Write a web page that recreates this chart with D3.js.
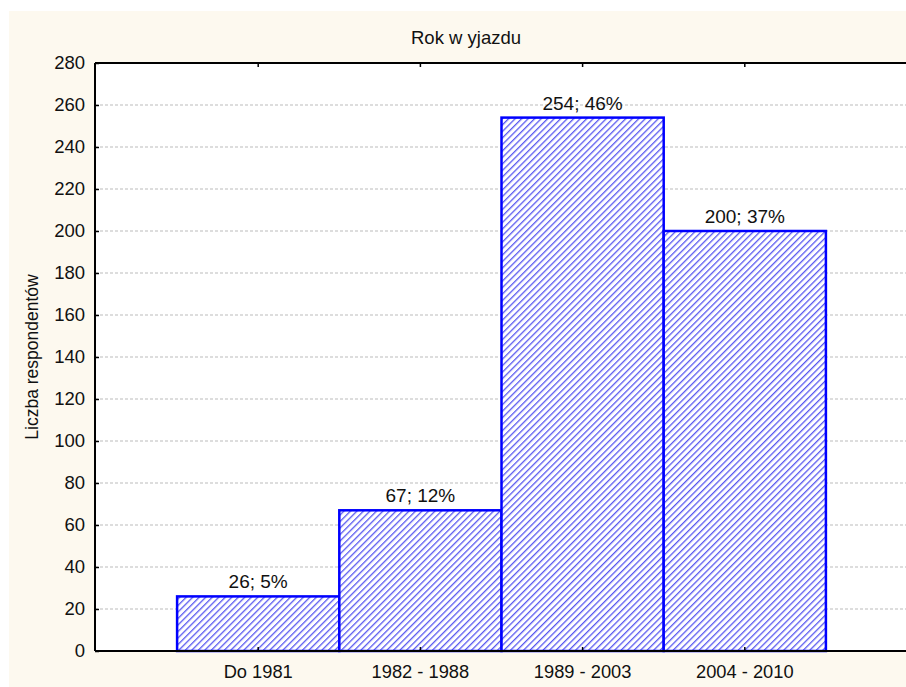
<!DOCTYPE html>
<html>
<head>
<meta charset="utf-8">
<script src="https://cdn.jsdelivr.net/npm/d3@7"></script>
<style>
  body { margin: 0; background: #fff; }
  text { font-family: "Liberation Sans", Arial, sans-serif; fill: #111; }
</style>
</head>
<body>
<script>
const categories = ['Do 1981', '1982 - 1988', '1989 - 2003', '2004 - 2010'];
const counts = [26, 67, 254, 200];
const percents = ['5%', '12%', '46%', '37%'];
const yTicks = [0, 20, 40, 60, 80, 100, 120, 140, 160, 180, 200, 220, 240, 260, 280];

const W = 906, H = 687;
const margin = { t: 63, b: 36, l: 95, r: 0 };
const w = W - margin.l - margin.r;
const h = H - margin.t - margin.b;

const svg = d3.select('body').append('svg')
  .attr('width', W)
  .attr('height', H);

// cream backdrop
svg.append('rect')
  .attr('x', 9).attr('y', 11)
  .attr('width', W - 9).attr('height', H - 11)
  .attr('fill', '#fdf9ef');

// hatch pattern
const defs = svg.append('defs');
const pat = defs.append('pattern')
  .attr('id', 'hatch')
  .attr('patternUnits', 'userSpaceOnUse')
  .attr('width', 4.6).attr('height', 4.6)
  .attr('patternTransform', 'rotate(45)');
pat.append('rect').attr('width', 4.6).attr('height', 4.6).attr('fill', '#fff');
pat.append('line')
  .attr('x1', 0).attr('y1', 0).attr('x2', 0).attr('y2', 4.6)
  .attr('stroke', '#4a4aee').attr('stroke-width', 2.6);

const g = svg.append('g').attr('transform', `translate(${margin.l},${margin.t})`);

g.append('rect').attr('width', w).attr('height', h).attr('fill', '#fff');

const x = d3.scaleBand().domain(categories).range([0, w]).paddingOuter(0.5).paddingInner(0);
const y = d3.scaleLinear().domain([0, 280]).range([h, 0]);

// grid
g.selectAll('.grid').data(yTicks.filter(d => d > 0 && d < 280)).enter()
  .append('line')
  .attr('x1', 0).attr('x2', w)
  .attr('y1', d => y(d)).attr('y2', d => y(d))
  .attr('stroke', '#bbb')
  .attr('stroke-dasharray', '3,2')
  .attr('stroke-width', 1);

// bars
g.selectAll('.bar').data(categories).enter()
  .append('rect')
  .attr('x', d => x(d) + 1)
  .attr('y', (d, i) => y(counts[i]))
  .attr('width', x.bandwidth())
  .attr('height', (d, i) => h - y(counts[i]))
  .attr('fill', 'url(#hatch)')
  .attr('fill-opacity', 0.92)
  .attr('stroke', '#0000ff')
  .attr('stroke-width', 2.5);

// bar labels
g.selectAll('.lbl').data(categories).enter()
  .append('text')
  .attr('x', d => x(d) + 1 + x.bandwidth() / 2)
  .attr('y', (d, i) => y(counts[i]) - 8)
  .attr('text-anchor', 'middle')
  .style('font-size', '19px')
  .text((d, i) => counts[i] + '; ' + percents[i]);

// axes
const yAxis = d3.axisLeft(y).tickValues(yTicks).tickSize(-4).tickPadding(10);
const yg = g.append('g').call(yAxis);
yg.select('.domain').remove();
yg.selectAll('text').style('font-size', '18.5px').attr('fill', '#111');
yg.selectAll('line').attr('stroke', '#000').attr('stroke-width', 1.5);

const xAxis = d3.axisBottom(x).tickSize(-4).tickPadding(14);
const xg = g.append('g').attr('transform', `translate(1,${h})`).call(xAxis);
xg.select('.domain').remove();
xg.selectAll('text').style('font-size', '18.3px').attr('fill', '#111');
xg.selectAll('line').attr('stroke', '#000').attr('stroke-width', 1.5);

const xTop = d3.axisTop(x).tickSize(-4).tickFormat('');
const xtg = g.append('g').attr('transform', 'translate(1,0)').call(xTop);
xtg.select('.domain').remove();
xtg.selectAll('line').attr('stroke', '#000').attr('stroke-width', 1.5);

// frame lines
g.append('line').attr('x1', 0).attr('x2', 0).attr('y1', 0).attr('y2', h)
  .attr('stroke', '#000').attr('stroke-width', 2);
g.append('line').attr('x1', 0).attr('x2', w).attr('y1', h).attr('y2', h)
  .attr('stroke', '#000').attr('stroke-width', 2);
g.append('line').attr('x1', 0).attr('x2', w).attr('y1', 0).attr('y2', 0)
  .attr('stroke', '#000').attr('stroke-width', 2);

// title
svg.append('text')
  .attr('x', 466).attr('y', 44)
  .attr('text-anchor', 'middle')
  .style('font-size', '18.5px')
  .text('Rok w yjazdu');

// y label
svg.append('text')
  .attr('transform', `translate(38,${margin.t + h / 2}) rotate(-90)`)
  .attr('text-anchor', 'middle')
  .style('font-size', '17.5px')
  .text('Liczba respondentów');
</script>
</body>
</html>
